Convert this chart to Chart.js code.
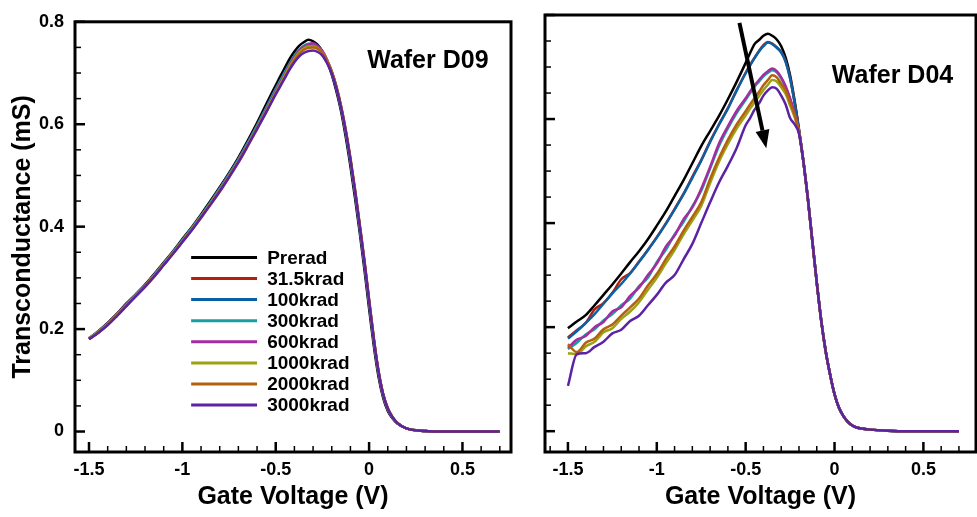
<!DOCTYPE html>
<html>
<head>
<meta charset="utf-8">
<script src="https://cdn.jsdelivr.net/npm/chart.js"></script>
<style>
body { margin: 0; background: #fff; }
#wrap { position: relative; width: 977px; height: 517px; }
canvas { position: absolute; top: 0; }
#left { left: 0; }
#right { left: 520px; }
</style>
</head>
<body>
<div id="wrap">
<canvas id="left" width="520" height="517"></canvas>
<canvas id="right" width="457" height="517"></canvas>
</div>
<script>
// gate voltage sweep (V), shared by every curve
var gateVoltage = [
  -1.5, -1.45, -1.4, -1.35, -1.3, -1.25, -1.2, -1.15, -1.1, -1.05,
  -1.0, -0.95, -0.9, -0.85, -0.8, -0.75, -0.7, -0.65, -0.6, -0.55,
  -0.5, -0.475, -0.45, -0.425, -0.4, -0.375, -0.35, -0.325, -0.3, -0.275,
  -0.25, -0.225, -0.2, -0.175, -0.15, -0.125, -0.1, -0.075, -0.05, -0.025,
  0, 0.025, 0.05, 0.075, 0.1, 0.125, 0.15, 0.2, 0.3, 0.4,
  0.5, 0.6, 0.7
];

var doseLabels = ['Prerad', '31.5krad', '100krad', '300krad', '600krad', '1000krad', '2000krad', '3000krad'];
var doseColors = ['#000000', '#b3200e', '#0b5fa5', '#16a0a0', '#a52ba0', '#9ba213', '#b3600f', '#5b22a3'];

// Wafer D09 transconductance (mS)
var d09Prerad = [
  0.181, 0.196, 0.212, 0.230, 0.250, 0.268, 0.287, 0.308, 0.330, 0.352,
  0.376, 0.399, 0.424, 0.450, 0.477, 0.505, 0.535, 0.568, 0.603, 0.640,
  0.676, 0.694, 0.711, 0.728, 0.742, 0.753, 0.760, 0.765, 0.762, 0.755,
  0.742, 0.722, 0.697, 0.664, 0.625, 0.575, 0.518, 0.455, 0.388, 0.316,
  0.240, 0.168, 0.108, 0.066, 0.040, 0.026, 0.016, 0.006, 0.001, 0,
  0, 0, 0
];
var d09k31 = [
  0.181, 0.195, 0.211, 0.229, 0.249, 0.267, 0.285, 0.306, 0.328, 0.350,
  0.373, 0.396, 0.421, 0.446, 0.473, 0.501, 0.530, 0.562, 0.596, 0.631,
  0.667, 0.684, 0.701, 0.718, 0.732, 0.744, 0.751, 0.755, 0.757, 0.752,
  0.742, 0.725, 0.702, 0.672, 0.633, 0.586, 0.530, 0.468, 0.400, 0.330,
  0.254, 0.180, 0.117, 0.072, 0.044, 0.028, 0.017, 0.006, 0.001, 0,
  0, 0, 0
];
var d09k100 = [
  0.182, 0.196, 0.211, 0.229, 0.248, 0.267, 0.286, 0.306, 0.328, 0.351,
  0.374, 0.397, 0.422, 0.447, 0.474, 0.502, 0.532, 0.564, 0.598, 0.633,
  0.669, 0.686, 0.703, 0.719, 0.734, 0.745, 0.752, 0.756, 0.755, 0.750,
  0.740, 0.723, 0.700, 0.670, 0.631, 0.583, 0.527, 0.465, 0.397, 0.327,
  0.251, 0.178, 0.115, 0.071, 0.043, 0.027, 0.017, 0.006, 0.001, 0,
  0, 0, 0
];
var d09k300 = [
  0.183, 0.193, 0.210, 0.228, 0.248, 0.266, 0.285, 0.306, 0.328, 0.350,
  0.373, 0.397, 0.421, 0.447, 0.474, 0.502, 0.531, 0.563, 0.597, 0.632,
  0.668, 0.685, 0.702, 0.718, 0.733, 0.745, 0.753, 0.757, 0.756, 0.751,
  0.741, 0.724, 0.701, 0.671, 0.632, 0.585, 0.529, 0.467, 0.399, 0.329,
  0.253, 0.179, 0.116, 0.072, 0.044, 0.028, 0.017, 0.006, 0.001, 0,
  0, 0, 0
];
var d09k600 = [
  0.181, 0.194, 0.210, 0.228, 0.247, 0.266, 0.285, 0.305, 0.327, 0.349,
  0.372, 0.395, 0.420, 0.445, 0.472, 0.500, 0.529, 0.561, 0.594, 0.629,
  0.665, 0.682, 0.699, 0.716, 0.731, 0.743, 0.751, 0.756, 0.758, 0.753,
  0.743, 0.726, 0.703, 0.673, 0.634, 0.587, 0.531, 0.469, 0.401, 0.331,
  0.255, 0.181, 0.118, 0.073, 0.045, 0.028, 0.017, 0.006, 0.001, 0,
  0, 0, 0
];
var d09k1000 = [
  0.182, 0.195, 0.210, 0.228, 0.247, 0.266, 0.284, 0.305, 0.327, 0.349,
  0.372, 0.395, 0.420, 0.445, 0.471, 0.499, 0.528, 0.560, 0.593, 0.627,
  0.662, 0.679, 0.696, 0.713, 0.728, 0.740, 0.748, 0.752, 0.752, 0.749,
  0.740, 0.724, 0.702, 0.672, 0.634, 0.587, 0.532, 0.470, 0.402, 0.332,
  0.256, 0.182, 0.118, 0.073, 0.045, 0.028, 0.017, 0.006, 0.001, 0,
  0, 0, 0
];
var d09k2000 = [
  0.181, 0.193, 0.208, 0.226, 0.245, 0.264, 0.282, 0.303, 0.325, 0.347,
  0.370, 0.393, 0.417, 0.442, 0.468, 0.496, 0.525, 0.557, 0.590, 0.624,
  0.658, 0.675, 0.692, 0.709, 0.725, 0.737, 0.745, 0.749, 0.750, 0.747,
  0.739, 0.724, 0.703, 0.674, 0.636, 0.590, 0.535, 0.473, 0.405, 0.335,
  0.259, 0.184, 0.120, 0.074, 0.046, 0.029, 0.018, 0.006, 0.001, 0,
  0, 0, 0
];
var d09k3000 = [
  0.180, 0.193, 0.208, 0.226, 0.245, 0.264, 0.283, 0.303, 0.325, 0.347,
  0.370, 0.393, 0.418, 0.443, 0.469, 0.497, 0.526, 0.558, 0.591, 0.624,
  0.659, 0.675, 0.691, 0.707, 0.721, 0.732, 0.739, 0.743, 0.744, 0.741,
  0.734, 0.719, 0.699, 0.670, 0.632, 0.586, 0.531, 0.469, 0.401, 0.331,
  0.255, 0.181, 0.118, 0.073, 0.045, 0.028, 0.017, 0.006, 0.001, 0,
  0, 0, 0
];

// Wafer D04 transconductance (mS)
var d04Prerad = [
  0.198, 0.211, 0.223, 0.242, 0.262, 0.282, 0.303, 0.325, 0.346, 0.369,
  0.395, 0.422, 0.452, 0.482, 0.515, 0.548, 0.577, 0.606, 0.638, 0.672,
  0.708, 0.727, 0.744, 0.752, 0.760, 0.764, 0.760, 0.753, 0.740, 0.718,
  0.684, 0.636, 0.580, 0.518, 0.447, 0.366, 0.286, 0.213, 0.154, 0.109,
  0.071, 0.045, 0.029, 0.018, 0.011, 0.007, 0.005, 0.003, 0.001, 0,
  0, 0, 0
];
var d04k31 = [
  0.180, 0.194, 0.208, 0.234, 0.246, 0.266, 0.292, 0.304, 0.326, 0.349,
  0.373, 0.399, 0.427, 0.456, 0.489, 0.521, 0.557, 0.590, 0.621, 0.656,
  0.689, 0.704, 0.718, 0.731, 0.742, 0.748, 0.745, 0.738, 0.729, 0.711,
  0.679, 0.633, 0.579, 0.518, 0.447, 0.366, 0.286, 0.213, 0.154, 0.109,
  0.071, 0.045, 0.029, 0.018, 0.011, 0.007, 0.005, 0.003, 0.001, 0,
  0, 0, 0
];
var d04k100 = [
  0.178, 0.192, 0.208, 0.225, 0.245, 0.265, 0.283, 0.303, 0.325, 0.348,
  0.372, 0.398, 0.426, 0.455, 0.487, 0.520, 0.556, 0.589, 0.620, 0.655,
  0.688, 0.703, 0.717, 0.730, 0.740, 0.747, 0.744, 0.737, 0.728, 0.710,
  0.678, 0.632, 0.578, 0.518, 0.447, 0.366, 0.286, 0.213, 0.154, 0.109,
  0.071, 0.045, 0.029, 0.018, 0.011, 0.007, 0.005, 0.003, 0.001, 0,
  0, 0, 0
];
var d04k300 = [
  0.158, 0.170, 0.186, 0.196, 0.213, 0.225, 0.242, 0.255, 0.279, 0.295,
  0.325, 0.348, 0.378, 0.402, 0.432, 0.462, 0.505, 0.548, 0.582, 0.612,
  0.637, 0.650, 0.662, 0.672, 0.682, 0.689, 0.694, 0.690, 0.678, 0.661,
  0.638, 0.610, 0.576, 0.518, 0.447, 0.366, 0.286, 0.213, 0.154, 0.109,
  0.071, 0.045, 0.029, 0.018, 0.011, 0.007, 0.005, 0.003, 0.001, 0,
  0, 0, 0
];
var d04k600 = [
  0.160, 0.176, 0.183, 0.200, 0.210, 0.230, 0.238, 0.260, 0.276, 0.300,
  0.322, 0.354, 0.376, 0.407, 0.430, 0.466, 0.508, 0.553, 0.586, 0.616,
  0.640, 0.653, 0.665, 0.675, 0.685, 0.692, 0.697, 0.692, 0.680, 0.663,
  0.640, 0.612, 0.576, 0.518, 0.447, 0.366, 0.286, 0.213, 0.154, 0.109,
  0.071, 0.045, 0.029, 0.018, 0.011, 0.007, 0.005, 0.003, 0.001, 0,
  0, 0, 0
];
var d04k1000 = [
  0.150, 0.148, 0.163, 0.172, 0.190, 0.198, 0.216, 0.230, 0.248, 0.272,
  0.295, 0.322, 0.348, 0.378, 0.405, 0.433, 0.477, 0.518, 0.552, 0.582,
  0.607, 0.620, 0.632, 0.644, 0.656, 0.666, 0.675, 0.672, 0.661, 0.648,
  0.626, 0.604, 0.574, 0.518, 0.447, 0.366, 0.286, 0.213, 0.154, 0.109,
  0.071, 0.045, 0.029, 0.018, 0.011, 0.007, 0.005, 0.003, 0.001, 0,
  0, 0, 0
];
var d04k2000 = [
  0.167, 0.152, 0.170, 0.178, 0.196, 0.205, 0.222, 0.238, 0.255, 0.280,
  0.302, 0.330, 0.355, 0.385, 0.412, 0.440, 0.485, 0.525, 0.560, 0.590,
  0.615, 0.628, 0.640, 0.652, 0.665, 0.675, 0.684, 0.680, 0.668, 0.655,
  0.632, 0.608, 0.575, 0.518, 0.447, 0.366, 0.286, 0.213, 0.154, 0.109,
  0.071, 0.045, 0.029, 0.018, 0.011, 0.007, 0.005, 0.003, 0.001, 0,
  0, 0, 0
];
var d04k3000 = [
  0.087, 0.148, 0.150, 0.162, 0.172, 0.188, 0.195, 0.212, 0.222, 0.242,
  0.262, 0.285, 0.300, 0.330, 0.360, 0.400, 0.440, 0.478, 0.510, 0.545,
  0.588, 0.602, 0.618, 0.630, 0.645, 0.655, 0.661, 0.658, 0.645, 0.628,
  0.602, 0.590, 0.572, 0.518, 0.447, 0.366, 0.286, 0.213, 0.154, 0.109,
  0.071, 0.045, 0.029, 0.018, 0.011, 0.007, 0.005, 0.003, 0.001, 0,
  0, 0, 0
];

var d09Series = [d09Prerad, d09k31, d09k100, d09k300, d09k600, d09k1000, d09k2000, d09k3000];
var d04Series = [d04Prerad, d04k31, d04k100, d04k300, d04k600, d04k1000, d04k2000, d04k3000];

var fontFamily = '"Liberation Sans", Arial, Helvetica, sans-serif';
Chart.defaults.font.family = fontFamily;
Chart.defaults.color = '#000';

// frame, inward ticks, panel name, legend and arrow
var panelPlugin = {
  id: 'panel',
  afterDraw: function(chart, args, opts) {
    var ctx = chart.ctx, a = chart.chartArea;
    var sx = chart.scales.x, sy = chart.scales.y;
    var i, px, py, major;
    ctx.save();
    ctx.strokeStyle = '#000';
    ctx.fillStyle = '#000';

    for (i = -16; i <= 7; i++) {
      px = sx.getPixelForValue(i / 10);
      if (px < a.left + 2 || px > a.right - 2) continue;
      major = i % 5 === 0;
      ctx.lineWidth = major ? 2.5 : 1.5;
      ctx.beginPath();
      ctx.moveTo(px, a.bottom);
      ctx.lineTo(px, a.bottom - (major ? 10 : 6));
      ctx.stroke();
    }
    for (i = 0; i <= 16; i++) {
      py = sy.getPixelForValue(i / 20);
      major = i % 4 === 0;
      ctx.lineWidth = major ? 2.5 : 1.5;
      ctx.beginPath();
      ctx.moveTo(a.left, py);
      ctx.lineTo(a.left + (major ? 10 : 6), py);
      ctx.stroke();
    }
    ctx.lineWidth = 3;
    ctx.strokeRect(a.left, a.top, a.right - a.left, a.bottom - a.top);

    ctx.font = 'bold 25px ' + fontFamily;
    ctx.textAlign = 'left';
    ctx.textBaseline = 'middle';
    ctx.fillText(opts.name, sx.getPixelForValue(opts.nameX), sy.getPixelForValue(opts.nameY));

    if (opts.legend) {
      ctx.font = 'bold 19px ' + fontFamily;
      var x0 = sx.getPixelForValue(-0.953), x1 = sx.getPixelForValue(-0.6), xt = sx.getPixelForValue(-0.546);
      for (i = 0; i < doseLabels.length; i++) {
        py = sy.getPixelForValue(0.34 - i * 0.0412);
        ctx.strokeStyle = doseColors[i];
        ctx.lineWidth = 3;
        ctx.beginPath();
        ctx.moveTo(x0, py);
        ctx.lineTo(x1, py);
        ctx.stroke();
        ctx.fillText(doseLabels[i], xt, py + 1);
      }
    }

    if (opts.arrow) {
      var ax0 = sx.getPixelForValue(-0.535), ay0 = sy.getPixelForValue(0.785);
      var ax1 = sx.getPixelForValue(-0.384), ay1 = sy.getPixelForValue(0.544);
      var ang = Math.atan2(ay1 - ay0, ax1 - ax0);
      var hl = 18, hw = 7;
      var bx = ax1 - hl * Math.cos(ang), by = ay1 - hl * Math.sin(ang);
      ctx.strokeStyle = '#000';
      ctx.lineWidth = 4;
      ctx.beginPath();
      ctx.moveTo(ax0, ay0);
      ctx.lineTo(bx, by);
      ctx.stroke();
      ctx.beginPath();
      ctx.moveTo(ax1, ay1);
      ctx.lineTo(bx + hw * Math.sin(ang), by - hw * Math.cos(ang));
      ctx.lineTo(bx - hw * Math.sin(ang), by + hw * Math.cos(ang));
      ctx.closePath();
      ctx.fill();
    }
    ctx.restore();
  }
};

function tickText(v) {
  return String(Math.round(v * 10) / 10);
}

function makeDatasets(series) {
  return series.map(function(ys, i) {
    return {
      label: doseLabels[i],
      data: gateVoltage.map(function(v, j) { return { x: v, y: ys[j] }; }),
      borderColor: doseColors[i],
      borderWidth: 2.5,
      pointRadius: 0,
      fill: false,
      cubicInterpolationMode: 'monotone',
      order: series.length - 1 - i
    };
  });
}

function makeConfig(series, p) {
  return {
    type: 'line',
    data: { datasets: makeDatasets(series) },
    plugins: [panelPlugin],
    options: {
      responsive: false,
      animation: false,
      events: [],
      layout: { padding: { top: 15, right: p.padRight, left: 0, bottom: 0 } },
      plugins: {
        legend: { display: false },
        tooltip: { enabled: false },
        panel: { name: p.name, nameX: p.nameX, nameY: p.nameY, legend: p.legend, arrow: p.arrow }
      },
      scales: {
        x: {
          type: 'linear',
          min: p.xMin,
          max: p.xMax,
          afterFit: function(s) { s.height = 65; },
          grid: { display: false, drawTicks: false },
          border: { display: false },
          ticks: { stepSize: 0.5, includeBounds: false, padding: 7, maxRotation: 0, color: '#000', font: { size: 18, weight: 'bold' }, callback: tickText },
          title: { display: true, text: 'Gate Voltage (V)', color: '#000', font: { size: 25, weight: 'bold' }, padding: { top: 0, bottom: 5 } }
        },
        y: {
          type: 'linear',
          min: -0.04,
          max: 0.8,
          afterFit: function(s) { s.width = p.yWidth; },
          grid: { display: false, drawTicks: false },
          border: { display: false },
          ticks: { display: p.yLabels, stepSize: 0.2, includeBounds: false, padding: 11, color: '#000', font: { size: 18, weight: 'bold' }, callback: tickText },
          title: { display: p.yLabels, text: 'Transconductance (mS)', color: '#000', font: { size: 25, weight: 'bold' }, padding: { top: 8, bottom: 0 } }
        }
      }
    }
  };
}

var chart = new Chart(document.getElementById('left').getContext('2d'), makeConfig(d09Series, {
  xMin: -1.575, xMax: 0.76, padRight: 9, yWidth: 75, yLabels: true,
  name: 'Wafer D09', nameX: -0.01, nameY: 0.723, legend: true, arrow: false
}));
var chart2 = new Chart(document.getElementById('right').getContext('2d'), makeConfig(d04Series, {
  xMin: -1.629, xMax: 0.796, padRight: 1, yWidth: 25, yLabels: false,
  name: 'Wafer D04', nameX: -0.015, nameY: 0.683, legend: false, arrow: true
}));
</script>
</body>
</html>
